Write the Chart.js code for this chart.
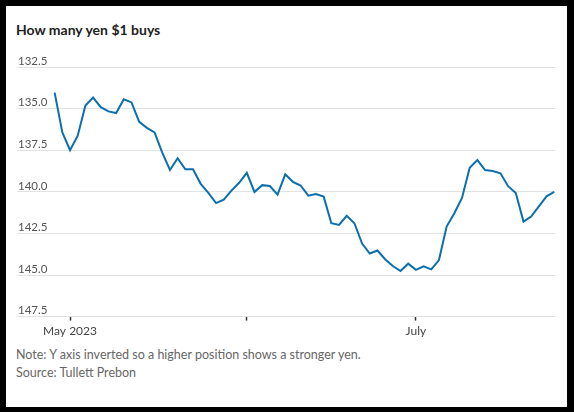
<!DOCTYPE html>
<html>
<head>
<meta charset="utf-8">
<script src="https://cdn.jsdelivr.net/npm/chart.js@4"></script>
<style>
  html, body { margin: 0; padding: 0; background: #000; }
  body { width: 574px; height: 412px; position: relative; overflow: hidden; font-family: Lato, "Open Sans", sans-serif; }
  #panel { position: absolute; left: 6px; top: 6px; width: 561px; height: 401px; background: #fff; }
  #title { position: absolute; left: 16px; top: 21px; font-size: 14px; font-weight: 700; color: #222; line-height: 18px; }
  #notes { position: absolute; left: 16px; top: 346px; font-size: 12.5px; color: #666; line-height: 18px; }
  #wrap { position: absolute; left: 0; top: 0; width: 574px; height: 412px; }
</style>
</head>
<body>
<div id="panel"></div>
<div id="title">How many yen $1 buys</div>
<div id="notes">Note: Y axis inverted so a higher position shows a stronger yen.<br>Source: Tullett Prebon</div>
<div id="wrap"><canvas id="chart"></canvas></div>
<script>
// business days, late April to late July 2023
const dates = [
  '2023-04-27', '2023-04-28',
  '2023-05-01', '2023-05-02', '2023-05-03', '2023-05-04', '2023-05-05',
  '2023-05-08', '2023-05-09', '2023-05-10', '2023-05-11', '2023-05-12',
  '2023-05-15', '2023-05-16', '2023-05-17', '2023-05-18', '2023-05-19',
  '2023-05-22', '2023-05-23', '2023-05-24', '2023-05-25', '2023-05-26',
  '2023-05-29', '2023-05-30', '2023-05-31',
  '2023-06-01', '2023-06-02',
  '2023-06-05', '2023-06-06', '2023-06-07', '2023-06-08', '2023-06-09',
  '2023-06-12', '2023-06-13', '2023-06-14', '2023-06-15', '2023-06-16',
  '2023-06-19', '2023-06-20', '2023-06-21', '2023-06-22', '2023-06-23',
  '2023-06-26', '2023-06-27', '2023-06-28', '2023-06-29', '2023-06-30',
  '2023-07-03', '2023-07-04', '2023-07-05', '2023-07-06', '2023-07-07',
  '2023-07-10', '2023-07-11', '2023-07-12', '2023-07-13', '2023-07-14',
  '2023-07-17', '2023-07-18', '2023-07-19', '2023-07-20', '2023-07-21',
  '2023-07-24', '2023-07-25', '2023-07-26', '2023-07-27'
];

// yen per dollar
const yenPerDollar = [
  134.04, 136.43,
  137.50, 136.63, 134.81, 134.34, 134.91,
  135.17, 135.27, 134.44, 134.63, 135.80,
  136.16, 136.43, 137.64, 138.69, 137.98,
  138.65, 138.65, 139.52, 140.07, 140.68,
  140.47, 139.93, 139.46,
  138.86, 140.01,
  139.60, 139.65, 140.17, 138.95, 139.40,
  139.62, 140.23, 140.13, 140.29, 141.89,
  141.99, 141.44, 141.89, 143.11, 143.71,
  143.53, 144.05, 144.46, 144.76, 144.32,
  144.69, 144.48, 144.66, 144.10, 142.09,
  141.29, 140.37, 138.55, 138.09, 138.69,
  138.75, 138.89, 139.66, 140.07, 141.79,
  141.49, 140.88, 140.27, 140.01
];

const tickDates = ['2023-05-01', '2023-06-01', '2023-07-03'];
const tickLabels = ['May 2023', '', 'July'];

const yMin = 132.5;
const yMax = 147.5;
const yStep = 2.5;

const points = yenPerDollar.map((v, i) => ({ x: i, y: v }));

new Chart(document.getElementById('chart'), {
  type: 'line',
  data: {
    datasets: [{
      data: points,
      borderColor: '#0b6fae',
      borderWidth: 2,
      pointRadius: 0,
      tension: 0,
      fill: false
    }]
  },
  options: {
    responsive: true,
    maintainAspectRatio: false,
    animation: false,
    layout: { padding: { left: 15, right: 19, top: 67, bottom: 71 } },
    plugins: { legend: { display: false }, tooltip: { enabled: false } },
    scales: {
      x: {
        type: 'linear',
        min: -4.9,
        max: dates.length - 0.9,
        afterBuildTicks: (scale) => {
          scale.ticks = tickDates.map(d => ({ value: dates.indexOf(d) }));
        },
        grid: {
          drawOnChartArea: false,
          drawTicks: true,
          tickLength: 4,
          tickColor: '#333',
          tickWidth: 1.5
        },
        border: { display: false },
        ticks: {
          autoSkip: false,
          maxRotation: 0,
          padding: 3,
          color: '#444',
          font: { family: 'Lato', size: 12 },
          callback: (value) => tickLabels[tickDates.indexOf(dates[value])]
        }
      },
      y: {
        reverse: true,
        min: yMin,
        max: yMax,
        grid: { color: '#e2e2e2', lineWidth: 1, drawTicks: false },
        border: { display: false },
        ticks: {
          stepSize: yStep,
          mirror: true,
          padding: 1,
          labelOffset: -6,
          color: '#555',
          font: { family: 'Lato', size: 11.5 },
          callback: (v) => v.toFixed(1)
        }
      }
    }
  }
});
</script>
</body>
</html>
